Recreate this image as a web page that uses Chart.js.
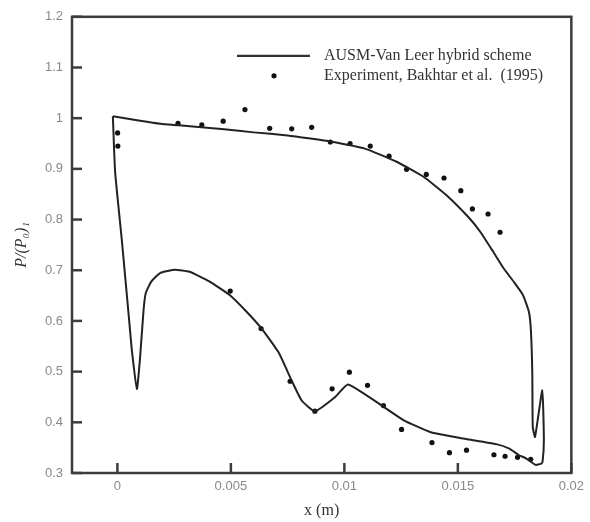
<!DOCTYPE html>
<html>
<head>
<meta charset="utf-8">
<script src="https://cdn.jsdelivr.net/npm/chart.js@4.4.1/dist/chart.umd.min.js"></script>
<style>
    html, body { margin: 0; padding: 0; background: #fff; }
    #wrap { width: 590px; height: 522px; }
</style>
</head>
<body>
<div id="wrap"><canvas id="pressureChart" width="590" height="522"></canvas></div>
<script>
// closed loop of the computed pressure, starting at the leading edge corner
const schemeX = [-0.0002, 0.0010, 0.0019, 0.0027, 0.0037, 0.0047, 0.0060, 0.0075, 0.0085, 0.0094, 0.0109, 0.0123, 0.0135, 0.0145, 0.0155, 0.0160, 0.01655, 0.0170, 0.0175, 0.01786, 0.01813, 0.01822, 0.01828, 0.0183, 0.0184,
    0.01872, 0.01879, 0.01873, 0.01865, 0.01843, 0.0180, 0.0177, 0.01727, 0.01669, 0.01524, 0.01378, 0.01262, 0.01175, 0.01088, 0.01015, 0.00957, 0.0087, 0.00812, 0.00768, 0.0071, 0.00637, 0.00565, 0.00492, 0.00405, 0.00318, 0.00253, 0.0019, 0.0015, 0.00125, 0.00115, 0.0010, 0.00086, 0.00064, 0.00052, 0.0002, -0.0001, -0.0002];
const schemeY = [1.004, 0.995, 0.989, 0.986, 0.982, 0.978, 0.972, 0.966, 0.960, 0.954, 0.940, 0.914, 0.884, 0.848, 0.803, 0.775, 0.737, 0.705, 0.675, 0.652, 0.618, 0.580, 0.495, 0.391, 0.371,
    0.463, 0.365, 0.322, 0.318, 0.316, 0.329, 0.335, 0.348, 0.357, 0.368, 0.381, 0.404, 0.430, 0.456, 0.4745, 0.449, 0.422, 0.443, 0.482, 0.538, 0.584, 0.620, 0.652, 0.678, 0.697, 0.701, 0.695, 0.678, 0.655, 0.620, 0.528, 0.466, 0.541, 0.600, 0.757, 0.894, 1.004];

const expX = [0.00001, 0.00002, 0.00267, 0.00372, 0.00466, 0.00562, 0.00671, 0.00768, 0.00856, 0.00938, 0.01025, 0.01114, 0.01197, 0.01274, 0.01361, 0.01439, 0.01513, 0.01564, 0.01633, 0.01686,
    0.00497, 0.00633, 0.00761, 0.0087, 0.00946, 0.01022, 0.01102, 0.01172, 0.01252, 0.01386, 0.01463, 0.01538, 0.01659, 0.01708, 0.01763, 0.01821];
const expY = [0.971, 0.945, 0.990, 0.987, 0.994, 1.017, 0.980, 0.979, 0.982, 0.953, 0.950, 0.945, 0.925, 0.899, 0.889, 0.882, 0.857, 0.821, 0.811, 0.775,
    0.659, 0.585, 0.481, 0.422, 0.466, 0.499, 0.473, 0.433, 0.386, 0.360, 0.340, 0.345, 0.336, 0.333, 0.331, 0.327];

const xTicks = [0, 0.005, 0.01, 0.015, 0.02];
const yTicks = [0.3, 0.4, 0.5, 0.6, 0.7, 0.8, 0.9, 1, 1.1, 1.2];

const schemePoints = schemeX.map((x, i) => ({ x: x, y: schemeY[i] }));
const expPoints = expX.map((x, i) => ({ x: x, y: expY[i] }));

// box frame, inward tick marks and the legend inside the plot
const framePlugin = {
    id: 'frame',
    afterDraw(chart) {
        const ctx = chart.ctx;
        const a = chart.chartArea;
        const sx = chart.scales.x, sy = chart.scales.y;
        ctx.save();
        ctx.strokeStyle = '#3c3c3c';
        ctx.lineWidth = 2.5;
        ctx.strokeRect(a.left, a.top, a.right - a.left, a.bottom - a.top);
        xTicks.forEach(v => {
            const px = sx.getPixelForValue(v);
            ctx.beginPath();
            ctx.moveTo(px, a.bottom);
            ctx.lineTo(px, a.bottom - 10);
            ctx.stroke();
        });
        yTicks.forEach(v => {
            const py = sy.getPixelForValue(v);
            ctx.beginPath();
            ctx.moveTo(a.left, py);
            ctx.lineTo(a.left + 10, py);
            ctx.stroke();
        });

        // legend
        const ds = chart.data.datasets;
        const lx = a.left + 165, ly = a.top + 39;
        ctx.strokeStyle = '#333';
        ctx.lineWidth = 2.2;
        ctx.beginPath();
        ctx.moveTo(lx, ly);
        ctx.lineTo(lx + 73, ly);
        ctx.stroke();
        ctx.fillStyle = '#111';
        ctx.beginPath();
        ctx.arc(lx + 37, ly + 20, 2.6, 0, Math.PI * 2);
        ctx.fill();
        ctx.fillStyle = '#333';
        ctx.font = '16px "Liberation Serif"';
        ctx.textBaseline = 'middle';
        ctx.fillText(ds[0].label, lx + 87, ly);
        ctx.fillText(ds[1].label, lx + 87, ly + 20);
        ctx.restore();
    }
};

const ctx = document.getElementById('pressureChart').getContext('2d');
const pressureChart = new Chart(ctx, {
    type: 'scatter',
    data: {
        datasets: [
            {
                label: 'AUSM-Van Leer hybrid scheme',
                data: schemePoints,
                showLine: true,
                borderColor: '#222',
                borderWidth: 2,
                pointRadius: 0,
                tension: 0.15,
                fill: false
            },
            {
                label: 'Experiment, Bakhtar et al.  (1995)',
                data: expPoints,
                backgroundColor: '#111',
                borderWidth: 0,
                pointRadius: 2.6
            }
        ]
    },
    options: {
        responsive: false,
        animation: false,
        layout: {
            padding: { left: 0, right: 14, top: 14, bottom: 0 }
        },
        plugins: {
            legend: { display: false },
            tooltip: { enabled: false }
        },
        scales: {
            x: {
                type: 'linear',
                min: -0.002,
                max: 0.02,
                afterBuildTicks: scale => { scale.ticks = xTicks.map(v => ({ value: v })); },
                afterFit: scale => { scale.height = 49; },
                grid: { display: false, drawTicks: false },
                border: { display: false },
                ticks: {
                    padding: 6,
                    color: '#888',
                    font: { family: 'Liberation Sans', size: 13 },
                    callback: v => String(v)
                },
                title: {
                    display: true,
                    text: 'x (m)',
                    color: '#333',
                    font: { family: 'Liberation Serif', size: 16 },
                    padding: { top: 0, bottom: 2 }
                }
            },
            y: {
                type: 'linear',
                min: 0.3,
                max: 1.2,
                afterBuildTicks: scale => { scale.ticks = yTicks.map(v => ({ value: v })); },
                afterFit: scale => { scale.width = 72; },
                grid: { display: false, drawTicks: false },
                border: { display: false },
                ticks: {
                    padding: 9,
                    color: '#888',
                    font: { family: 'Liberation Sans', size: 13 },
                    callback: v => String(v)
                },
                title: {
                    display: true,
                    text: 'P/(P₀)₁',
                    color: '#333',
                    font: { family: 'Liberation Serif', size: 16, style: 'italic' },
                    padding: { top: 12, bottom: 0 }
                }
            }
        }
    },
    plugins: [framePlugin]
});
</script>
</body>
</html>
